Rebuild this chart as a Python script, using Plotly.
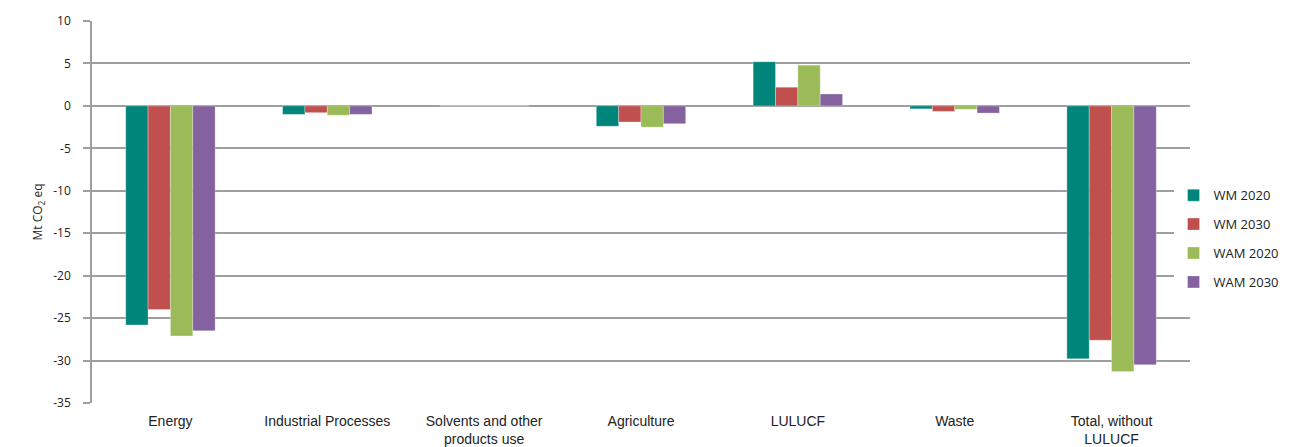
import plotly.graph_objects as go

categories = ["Energy", "Industrial Processes", "Solvents and other<br>products use",
              "Agriculture", "LULUCF", "Waste", "Total, without<br>LULUCF"]
wm_2020 = [-25.8, -1.0, 0.0, -2.4, 5.2, -0.35, -29.8]
wm_2030 = [-24.0, -0.8, 0.0, -1.9, 2.2, -0.65, -27.6]
wam_2020 = [-27.1, -1.1, 0.0, -2.5, 4.8, -0.4, -31.3]
wam_2030 = [-26.5, -1.0, 0.0, -2.1, 1.4, -0.85, -30.5]
y_ticks = [10, 5, 0, -5, -10, -15, -20, -25, -30, -35]
y_labels = ["10", "5", "0", "-5", "-10", "-15", "-20", "-25", "-30", "-35"]

series = [("WM 2020", wm_2020, "#00857A"),
          ("WM 2030", wm_2030, "#C0504D"),
          ("WAM 2020", wam_2020, "#9BBB59"),
          ("WAM 2030", wam_2030, "#8462A0")]

fig = go.Figure()
for name, vals, col in series:
    fig.add_trace(go.Bar(x=categories, y=vals, name=name, legendgroup=name, marker_color=col,
                         marker_line=dict(color="rgba(255,255,255,0.6)", width=0.5)))

# page body adds an 8px offset
fig.update_layout(
    width=1302, height=439,
    margin=dict(l=84, r=120, t=13, b=44),
    plot_bgcolor="white", paper_bgcolor="white",
    barmode="group", bargap=0.43, bargroupgap=0,
    font=dict(family="Liberation Sans Narrow, Liberation Sans, Arial", size=12, color="#222"),
    legend=dict(x=0.985, y=0.43, yanchor="middle", xanchor="left",
                font=dict(family="Open Sans, DejaVu Sans", size=13, color="#222"),
                tracegroupgap=9, itemwidth=30, traceorder="grouped"),
    showlegend=True,
)
fig.update_yaxes(range=[-35, 10], tickvals=y_ticks, ticktext=y_labels, automargin=False,
                 showgrid=True, gridcolor="#9e9e9e", gridwidth=1.5,
                 zeroline=True, zerolinecolor="#9e9e9e", zerolinewidth=1.5,
                 showline=True, linecolor="#9e9e9e", linewidth=1.5,
                 ticks="outside", tickcolor="#9e9e9e", ticklen=7, tickwidth=1.5,
                 ticklabelstandoff=10,
                 tickfont=dict(family="Open Sans, DejaVu Sans", size=12),
                 title=dict(text="Mt CO<sub>2</sub> eq", font=dict(family="Open Sans, DejaVu Sans", size=12),
                            standoff=8))
fig.update_xaxes(showline=False, ticks="", tickfont=dict(size=14), ticklabelstandoff=8,
                 automargin=False)

fig.write_html("out.html")
